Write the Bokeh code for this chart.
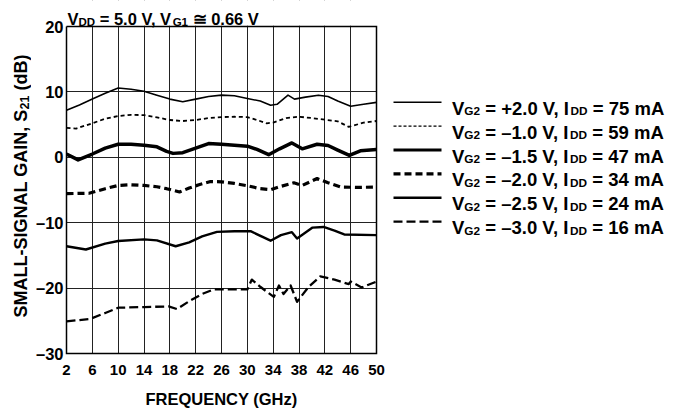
import numpy as np
from bokeh.plotting import figure
from bokeh.models import Range1d, Label, FixedTicker, ColumnDataSource, BoxAnnotation
from bokeh.layouts import row
from bokeh.core.properties import value
from bokeh.embed import file_html
from bokeh.resources import INLINE

FONT = "Liberation Sans"

# ---------------- data ----------------
x_ticks = [2, 6, 10, 14, 18, 22, 26, 30, 34, 38, 42, 46, 50]
y_ticks = [-30, -20, -10, 0, 10, 20]
y_tick_labels = {-30: "–30", -20: "–20", -10: "–10", 0: "0", 10: "10", 20: "20"}

f1 = [2, 4, 6, 8, 10, 12, 14, 16, 18, 20, 22, 24, 26, 28, 30, 32, 33.6, 34.6, 36.3, 37.3, 39, 41, 42.5, 44, 46, 48, 50]
g1 = [7.2, 8.0, 8.9, 9.8, 10.6, 10.4, 10.1, 9.5, 8.9, 8.5, 8.9, 9.3, 9.5, 9.4, 9.0, 8.6, 7.95, 8.1, 9.5, 8.9, 9.2, 9.5, 9.3, 8.6, 7.8, 8.1, 8.4]

f2 = [2, 3.5, 6, 8, 10, 12, 14, 16, 18, 20, 22, 24, 26, 28, 30, 31.5, 33, 34, 36, 38, 40, 42, 44, 45.7, 48, 50]
g2 = [4.5, 4.4, 5.2, 5.9, 6.3, 6.5, 6.45, 6.1, 5.7, 5.55, 5.7, 6.0, 6.15, 6.2, 6.15, 5.7, 5.2, 5.3, 6.0, 6.2, 6.0, 5.75, 5.5, 4.65, 5.3, 5.55]

f3 = [2, 3.8, 6, 8, 10, 12, 14, 16, 17.5, 18.5, 20, 22, 24, 26, 28, 30, 31.5, 33.3, 35, 36.9, 38.5, 40.8, 42.5, 44, 45.8, 47.5, 50]
g3 = [0.5, -0.4, 0.5, 1.4, 2.0, 2.0, 1.85, 1.6, 0.9, 0.6, 0.7, 1.4, 2.1, 2.0, 1.85, 1.7, 1.2, 0.4, 1.3, 2.2, 1.3, 2.0, 1.8, 1.1, 0.3, 1.0, 1.2]

f4 = [2, 5.5, 8, 10, 12, 14, 16, 17.5, 19.5, 21, 22.5, 24.3, 26, 28, 30, 32, 33.6, 35, 37.2, 38.5, 40.8, 42.5, 44.5, 47, 50]
g4 = [-5.55, -5.5, -4.8, -4.3, -4.2, -4.3, -4.5, -4.8, -5.3, -4.7, -4.2, -3.7, -3.75, -4.0, -4.35, -4.8, -4.95, -4.5, -3.9, -4.3, -3.25, -3.9, -4.55, -4.6, -4.55]

f5 = [2, 5, 8, 10, 14, 16, 18.9, 21, 23, 25.3, 28, 30.5, 33.6, 35.2, 36.9, 37.7, 40.1, 41.8, 43.5, 45, 50]
g5 = [-13.6, -14.1, -13.2, -12.8, -12.55, -12.7, -13.6, -13.0, -12.1, -11.4, -11.3, -11.3, -12.75, -11.9, -11.45, -12.4, -10.75, -10.65, -11.2, -11.8, -11.9]

f6 = [2, 5.7, 8, 10, 14, 17.8, 19.1, 21, 23, 24.8, 27, 30, 30.7, 32, 34.1, 34.9, 35.6, 36.7, 37.7, 39.5, 41.3, 43.5, 45.7, 46, 47.7, 50]
g6 = [-25.1, -24.7, -23.8, -23.0, -22.9, -22.8, -23.2, -22.0, -20.9, -20.2, -20.2, -20.2, -18.7, -19.8, -21.35, -19.6, -20.9, -19.6, -22.1, -19.8, -18.2, -18.7, -19.4, -19.0, -19.9, -19.0]

vg2 = ["+2.0", "–1.0", "–1.5", "–2.0", "–2.5", "–3.0"]
idd = ["75", "59", "47", "34", "24", "16"]

series = [(f1, g1), (f2, g2), (f3, g3), (f4, g4), (f5, g5), (f6, g6)]
styles = [
    dict(line_width=1.6, line_dash="solid"),
    dict(line_width=1.8, line_dash="4 3"),
    dict(line_width=3.5, line_dash="solid"),
    dict(line_width=3.2, line_dash="7 4"),
    dict(line_width=2.4, line_dash="solid"),
    dict(line_width=2.3, line_dash="9 4"),
]
legend_styles = [
    dict(line_width=1.4, line_dash="solid"),
    dict(line_width=1.4, line_dash="3 2"),
    dict(line_width=3.2, line_dash="solid"),
    dict(line_width=3.2, line_dash="7 4"),
    dict(line_width=2.4, line_dash="solid"),
    dict(line_width=2.2, line_dash="9 4"),
]

# Arial/Liberation Sans Bold advance widths (per 1000 em)
W = {' ': 278, '(': 333, ')': 333, '+': 584, ',': 278, '-': 333, '.': 278, '=': 584,
     'A': 722, 'B': 722, 'C': 722, 'D': 722, 'E': 667, 'F': 611, 'G': 778, 'H': 722,
     'I': 278, 'L': 611, 'M': 833, 'N': 722, 'Q': 778, 'R': 722, 'S': 667, 'U': 722,
     'V': 667, 'Y': 667, 'd': 611, 'm': 889, 'z': 500, '–': 556, '≅': 838}


def tw(s, size):
    return sum(W.get(c, 556) for c in s) / 1000.0 * size


def layout_pieces(pieces, main, sub):
    out = []
    pos = 0.0
    for t, is_sub in pieces:
        size = sub if is_sub else main
        lead = len(t) - len(t.lstrip(" "))
        out.append((pos + tw(" " * lead, size), t.strip(" "), size, is_sub))
        pos += tw(t, size)
    return out


# ---------------- geometry (canvas px) ----------------
YLW = 31                  # width of y-label strip
FL, FR, FT, FB = 66, 376, 26, 353   # plot box in canvas px
MAIN_W = 386 - YLW
X0, X1 = x_ticks[0], x_ticks[-1]
Y0, Y1 = y_ticks[0], y_ticks[-1]
dy_per_px = (Y1 - Y0) / (FB - FT)
y_top = Y1 + FT * dy_per_px       # frame extends to canvas top (title strip)

p = figure(width=MAIN_W, height=417, x_range=Range1d(X0, X1), y_range=Range1d(Y0, y_top),
           output_backend="svg", toolbar_location=None,
           min_border_left=FL - YLW, min_border_right=386 - FR, min_border_top=0,
           min_border_bottom=417 - FB)
p.background_fill_color = "white"
p.border_fill_color = "white"
p.outline_line_color = None

p.xaxis.ticker = FixedTicker(ticks=x_ticks)
p.yaxis.ticker = FixedTicker(ticks=y_ticks)
p.yaxis.major_label_overrides = y_tick_labels
for ax in (p.xaxis[0], p.yaxis[0]):
    ax.axis_line_color = None
    ax.major_tick_line_color = None
    ax.minor_tick_line_color = None
    ax.major_tick_out = 0
    ax.major_tick_in = 0
    ax.minor_tick_out = 0
    ax.minor_tick_in = 0
    ax.major_label_text_font = FONT
    ax.major_label_text_font_style = "bold"
    ax.major_label_text_color = "black"
p.xaxis.major_label_text_font_size = "15px"
p.yaxis.major_label_text_font_size = "16.5px"
p.xaxis.major_label_standoff = 11
p.yaxis.major_label_standoff = 3
p.xaxis.axis_label = "FREQUENCY (GHz)"
p.xaxis.axis_label_text_font = FONT
p.xaxis.axis_label_text_font_style = "bold"
p.xaxis.axis_label_text_font_size = "16.5px"
p.xaxis.axis_label_text_color = "black"
p.xaxis.axis_label_standoff = 12

p.xgrid.ticker = FixedTicker(ticks=x_ticks[1:-1])
p.ygrid.ticker = FixedTicker(ticks=y_ticks[1:-1])
p.grid.grid_line_color = "#222222"
p.grid.grid_line_alpha = 1.0
p.grid.grid_line_width = 1

for (fx, gy), st in zip(series, styles):
    p.line(fx, gy, line_color="black", line_join="round", **st)

# white strip above the plot box (title area) hides vertical grid lines
p.add_layout(BoxAnnotation(bottom=Y1 + 0.8 * dy_per_px, fill_color="white", fill_alpha=1.0,
                           line_alpha=0, level="annotation"))
# plot box border
border = p.line([X0, X1, X1, X0, X0], [Y1, Y1, Y0, Y0, Y1], line_color="black",
                line_width=1.5, line_join="miter")
border.level = "overlay"

dx_per_px = (X1 - X0) / (FR - FL)


def add_title_piece(txt, px, py, size):
    p.add_layout(Label(x=X0 + (px - FL) * dx_per_px, y=Y1 + (FT - py) * dy_per_px,
                       text=txt, text_font=FONT, text_font_style="bold",
                       text_font_size=f"{size}px", text_color="black",
                       text_align="left", text_baseline="alphabetic", level="overlay"))


# title: V_DD = 5.0 V, V_G1 ≅ 0.66 V
title_pieces = [("V", False), ("DD", True), (" = 5.0 V, V", False), ("G1", True), (" ≅ 0.66 V", False)]
for off, t, size, is_sub in layout_pieces(title_pieces, 16.5, 11.5):
    add_title_piece(t, 67.0 + off, 18.0 + (3.5 if is_sub else 0.0), size)

# ---------------- y-label strip ----------------
py_fig = figure(width=YLW, height=417, x_range=Range1d(0, YLW), y_range=Range1d(FB, 0),
                output_backend="svg", toolbar_location=None,
                min_border_left=0, min_border_right=0, min_border_top=0,
                min_border_bottom=417 - FB, x_axis_location=None, y_axis_location=None)
py_fig.grid.visible = False
py_fig.outline_line_color = None
py_fig.background_fill_color = "white"
py_fig.border_fill_color = "white"

ylab_pieces = [("SMALL-SIGNAL GAIN, S", False), ("21", True), (" (dB)", False)]
yx, yy, yt, ys = [], [], [], []
for off, t, size, is_sub in layout_pieces(ylab_pieces, 18, 12.5):
    # x is the centre line of the glyphs (text_baseline="middle")
    yx.append(20.0 if not is_sub else 24.0)
    yy.append(317.0 - off)
    yt.append(t)
    ys.append(f"{size}px")
py_fig.text(x="x", y="y", text="text", source=ColumnDataSource(dict(x=yx, y=yy, text=yt, size=ys)),
            text_font=value(FONT), text_font_style="bold", text_font_size="size",
            text_color="black", text_align="left", text_baseline="middle", angle=np.pi / 2)

# ---------------- legend strip ----------------
p2 = figure(width=296, height=417, x_range=Range1d(386, 682), y_range=Range1d(FB, 0),
            output_backend="svg", toolbar_location=None,
            min_border_left=0, min_border_right=0, min_border_top=0,
            min_border_bottom=417 - FB,
            x_axis_location=None, y_axis_location=None)
p2.grid.visible = False
p2.outline_line_color = None
p2.background_fill_color = "white"
p2.border_fill_color = "white"

tx, ty, tt, ts = [], [], [], []
for i, (v, c) in enumerate(zip(vg2, idd)):
    ly = 101.7 + 23.9 * i
    p2.line([393, 441], [ly, ly], line_color="black", **legend_styles[i])
    base = ly + 6.0
    pieces = [("V", False), ("G2", True), (f" = {v} V, I", False), ("DD", True), (f" = {c} mA", False)]
    for off, t, size, is_sub in layout_pieces(pieces, 18.5, 11.8):
        tx.append(451.5 + off)
        ty.append(base + (3.0 if is_sub else 0.0))
        tt.append(t)
        ts.append(f"{size}px")

src = ColumnDataSource(dict(x=tx, y=ty, text=tt, size=ts))
p2.text(x="x", y="y", text="text", source=src, text_font=value(FONT),
        text_font_style="bold", text_font_size="size", text_color="black",
        text_align="left", text_baseline="alphabetic")

layout = row(py_fig, p, p2)
open("out.html", "w").write(file_html(layout, INLINE))
